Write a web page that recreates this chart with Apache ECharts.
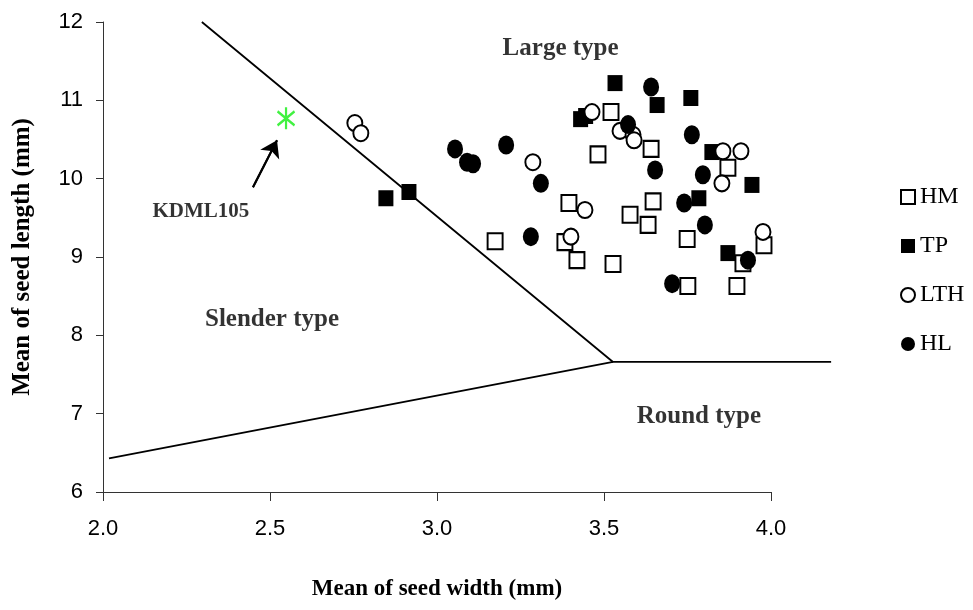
<!DOCTYPE html>
<html>
<head>
<meta charset="utf-8">
<script src="https://cdn.jsdelivr.net/npm/echarts@6/dist/echarts.min.js"></script>
<style>html,body{margin:0;padding:0;background:#fff}#c{width:973px;height:610px}</style>
</head>
<body>
<div id="c"></div>
<script>
// ---- data ----
var xTicks = [2.0, 2.5, 3.0, 3.5, 4.0];
var yTicks = [6, 7, 8, 9, 10, 11, 12];
var seriesNames = ['HM', 'TP', 'LTH', 'HL'];
var hmData = [[3.174,9.20],[3.395,9.69],[3.383,9.19],[3.419,8.96],[3.521,10.85],[3.641,10.38],[3.482,10.31],[3.871,10.14],[3.647,9.71],[3.578,9.54],[3.632,9.41],[3.749,9.23],[3.979,9.15],[3.916,8.92],[3.527,8.91],[3.751,8.63],[3.898,8.63]];
var tpData = [[2.847,9.75],[2.916,9.83],[3.430,10.76],[3.445,10.80],[3.533,11.22],[3.659,10.94],[3.760,11.03],[3.823,10.34],[3.943,9.92],[3.784,9.75],[3.871,9.05]];
var lthData = [[2.754,10.71],[2.772,10.58],[3.287,10.21],[3.443,9.60],[3.401,9.26],[3.464,10.85],[3.548,10.61],[3.587,10.56],[3.590,10.49],[3.856,10.35],[3.910,10.35],[3.853,9.94],[3.976,9.32]];
var hlData = [[3.054,10.38],[3.090,10.21],[3.108,10.19],[3.207,10.43],[3.311,9.94],[3.281,9.26],[3.641,11.17],[3.572,10.69],[3.763,10.56],[3.653,10.11],[3.796,10.05],[3.740,9.69],[3.802,9.41],[3.931,8.96],[3.704,8.66]];
var kdmlPoint = [[2.548,10.77]];
var kdmlArrow = [[2.449,9.89],[2.521,10.49]];
var upperBoundary = [[2.296,12.0],[3.527,7.66],[4.18,7.66]];
var lowerBoundary = [[2.018,6.43],[3.527,7.66]];
var regionLabels = [
  {name:'Large type', value:[3.37,11.66]},
  {name:'Slender type', value:[2.506,8.2]},
  {name:'Round type', value:[3.784,6.96]}
];
var kdmlLabel = [{name:'KDML105', value:[2.293,9.58]}];

var serif = '"Liberation Serif","Times New Roman",serif';
var sans = '"Liberation Sans",Arial,sans-serif';

// pixel frame of the plotting area (axis 2.0 -> 103 px, 4.0 -> 771 px)
var LEFT = 103, TOP = 22, BOTTOM = 118, RIGHT = 202;
var PX_PER_UNIT = (973 - LEFT - RIGHT) / 2;
var EXT_MAX = 4.2; // boundary line runs past the 4.0 tick
var RIGHT2 = 973 - (LEFT + (EXT_MAX - 2) * PX_PER_UNIT);

var chart = echarts.init(document.getElementById('c'));
var option = {
  animation: false,
  backgroundColor: '#fff',
  grid: [
    {left: LEFT, right: RIGHT, top: TOP, bottom: BOTTOM},
    {left: LEFT, right: RIGHT2, top: TOP, bottom: BOTTOM}
  ],
  legend: {
    orient: 'vertical', left: 895, top: 180, itemGap: 25,
    itemWidth: 14, itemHeight: 14,
    data: seriesNames,
    textStyle: {fontFamily: serif, fontSize: 24, color: '#000'}
  },
  xAxis: [{
    type: 'value', min: 2, max: 4, interval: 0.5, gridIndex: 0,
    name: 'Mean of seed width (mm)', nameLocation: 'middle', nameGap: 86,
    nameTextStyle: {fontFamily: serif, fontWeight: 'bold', fontSize: 23, color: '#000'},
    axisLine: {onZero: false, lineStyle: {color: '#333', width: 1}},
    axisTick: {show: true, length: 9, lineStyle: {color: '#333'}},
    axisLabel: {margin: 26, fontFamily: sans, fontSize: 22, color: '#000',
      formatter: function (v) { return v.toFixed(1); }},
    splitLine: {show: false}
  }, {
    type: 'value', min: 2, max: EXT_MAX, gridIndex: 1, show: false
  }],
  yAxis: [{
    type: 'value', min: 6, max: 12, interval: 1, gridIndex: 0,
    name: 'Mean of seed length (mm)', nameLocation: 'middle', nameGap: 68, nameRotate: 90,
    nameTextStyle: {fontFamily: serif, fontWeight: 'bold', fontSize: 25, color: '#000'},
    axisLine: {show: true, onZero: false, lineStyle: {color: '#333', width: 1}},
    axisTick: {show: true, length: 7, lineStyle: {color: '#333'}},
    axisLabel: {margin: 20, fontFamily: sans, fontSize: 22, color: '#000'},
    splitLine: {show: false}
  }, {
    type: 'value', min: 6, max: 12, gridIndex: 1, show: false
  }],
  series: [
    {type: 'line', data: upperBoundary, xAxisIndex: 1, yAxisIndex: 1, symbol: 'none', silent: true,
     lineStyle: {color: '#000', width: 1.8}, z: 1},
    {type: 'line', data: lowerBoundary, xAxisIndex: 1, yAxisIndex: 1, symbol: 'none', silent: true,
     lineStyle: {color: '#000', width: 1.8}, z: 1},
    {name: 'HM', type: 'scatter', data: hmData, symbol: 'rect', symbolSize: [15, 16],
     itemStyle: {color: '#fff', borderColor: '#000', borderWidth: 2, opacity: 1}, z: 3},
    {name: 'TP', type: 'scatter', data: tpData, symbol: 'rect', symbolSize: [15, 16],
     itemStyle: {color: '#000', borderColor: '#000', borderWidth: 0, opacity: 1}, z: 3},
    {name: 'LTH', type: 'scatter', data: lthData, symbol: 'circle', symbolSize: [15, 16],
     itemStyle: {color: '#fff', borderColor: '#000', borderWidth: 2, opacity: 1}, z: 3},
    {name: 'HL', type: 'scatter', data: hlData, symbol: 'circle', symbolSize: [16, 19],
     itemStyle: {color: '#000', borderColor: '#000', borderWidth: 0, opacity: 1}, z: 3},
    {type: 'scatter', data: kdmlPoint,
     symbol: 'path://M0,-11L0,11M-8,-7L8,7M-8,7L8,-7', symbolSize: [17, 22],
     itemStyle: {color: 'rgba(0,0,0,0)', borderColor: '#11ee11', borderWidth: 2.5}, z: 4},
    {type: 'line', data: kdmlArrow, symbol: 'none', silent: true, z: 4,
     lineStyle: {color: '#000', width: 2},
     markLine: {
       silent: true, symbol: ['none', 'arrow'], symbolSize: 16,
       lineStyle: {color: '#000', width: 2, type: 'solid'},
       label: {show: false},
       data: [[{coord: kdmlArrow[0]}, {coord: kdmlArrow[1]}]]
     }},
    {type: 'scatter', data: regionLabels, symbolSize: 0, silent: true,
     label: {show: true, position: 'inside', formatter: '{b}', fontFamily: serif,
       fontWeight: 'bold', fontSize: 25, color: '#000'}},
    {type: 'scatter', data: kdmlLabel, symbolSize: 0, silent: true,
     label: {show: true, position: 'inside', formatter: '{b}', fontFamily: serif,
       fontWeight: 'bold', fontSize: 21, color: '#000'}}
  ]
};
chart.setOption(option);
</script>
</body>
</html>
